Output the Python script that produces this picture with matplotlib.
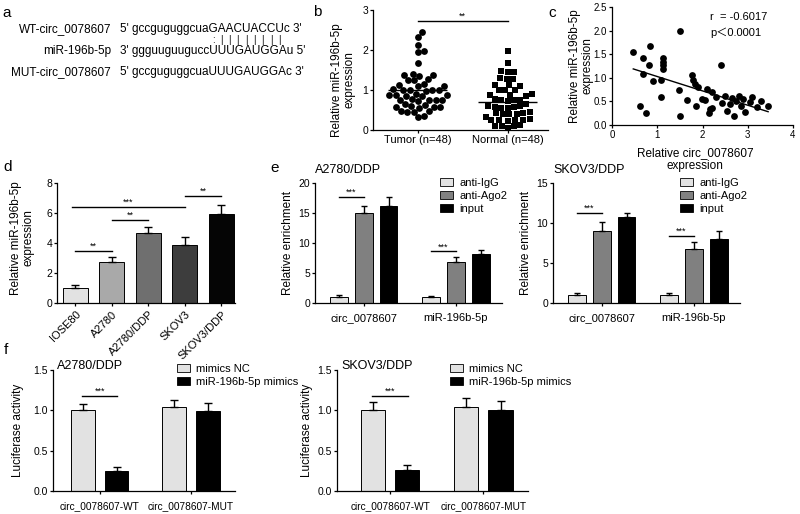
import numpy as np
import matplotlib
matplotlib.use('Agg')
import matplotlib.pyplot as plt
from matplotlib.patches import Patch
from matplotlib.font_manager import FontProperties

plt.rcParams['font.family'] = ['Liberation Sans', 'DejaVu Sans']
plt.rcParams['axes.linewidth'] = 0.9

# ---------------- data ----------------
# a: sequences
a_names = ['WT-circ_0078607', 'miR-196b-5p', 'MUT-circ_0078607']
a_seqs = ["5' gccguguggcuaGAACUACCUc 3'",
          "3' ggguuguuguccUUUGAUGGAu 5'",
          "5' gccguguggcuaUUUGAUGGAc 3'"]
a_pairs = ':||||||||'

# b: miR-196b-5p in tissues
b_groups = ['Tumor (n=48)', 'Normal (n=48)']
b_tumor = [2.46, 2.33, 2.13, 1.97, 1.95, 1.67, 1.40, 1.38, 1.38, 1.36,
           1.27, 1.25, 1.24, 1.14, 1.12, 1.11, 1.10, 1.02, 1.01, 1.00,
           1.00, 0.99, 0.98, 0.90, 0.88, 0.88, 0.87, 0.86, 0.85, 0.77,
           0.76, 0.75, 0.75, 0.74, 0.72, 0.65, 0.62, 0.60, 0.58, 0.58,
           0.57, 0.55, 0.48, 0.47, 0.46, 0.45, 0.36, 0.32]
b_normal = [1.98, 1.68, 1.47, 1.46, 1.45, 1.30, 1.28, 1.27, 1.13, 1.12,
            1.10, 1.01, 1.00, 0.99, 0.89, 0.88, 0.87, 0.86, 0.77, 0.76,
            0.75, 0.74, 0.73, 0.65, 0.60, 0.59, 0.58, 0.57, 0.56, 0.55,
            0.44, 0.43, 0.42, 0.41, 0.40, 0.39, 0.33, 0.27, 0.26, 0.25,
            0.25, 0.24, 0.23, 0.12, 0.11, 0.10, 0.09, 0.04]
b_center = [1.00, 0.71]

# c: correlation
c_x = [0.47, 0.69, 0.84, 0.81, 0.69, 0.91, 1.08, 1.12, 1.12, 1.12,
       1.12, 1.08, 0.62, 0.76, 1.50, 1.48, 1.51, 1.66, 1.77, 1.80,
       1.84, 1.91, 1.85, 1.99, 2.06, 2.09, 2.22, 2.15, 2.17, 2.20,
       2.40, 2.42, 2.30, 2.50, 2.55, 2.60, 2.65, 2.70, 2.75, 2.80,
       2.85, 2.90, 2.95, 3.05, 3.10, 3.20, 3.30, 3.45]
c_y = [1.55, 1.43, 1.67, 1.27, 1.08, 0.94, 0.95, 1.43, 1.34, 1.27,
       1.19, 0.59, 0.40, 0.25, 1.99, 0.74, 0.20, 0.54, 1.05, 0.95,
       0.86, 0.81, 0.41, 0.56, 0.52, 0.76, 0.70, 0.26, 0.33, 0.35,
       1.27, 0.46, 0.60, 0.62, 0.30, 0.45, 0.58, 0.20, 0.50, 0.62,
       0.40, 0.55, 0.28, 0.48, 0.60, 0.38, 0.50, 0.40]

# d: cell lines
d_cells = ['IOSE80', 'A2780', 'A2780/DDP', 'SKOV3', 'SKOV3/DDP']
d_mean = [1.0, 2.75, 4.7, 3.9, 5.95]
d_err = [0.2, 0.3, 0.35, 0.5, 0.6]

# e: RIP
e_targets = ['circ_0078607', 'miR-196b-5p']
e_series = ['anti-IgG', 'anti-Ago2', 'input']
e_a2780 = [[1.0, 1.0], [15.0, 6.8], [16.1, 8.1]]
e_a2780_err = [[0.3, 0.25], [1.2, 0.8], [1.5, 0.7]]
e_skov3 = [[1.0, 1.0], [9.0, 6.7], [10.8, 8.0]]
e_skov3_err = [[0.25, 0.2], [1.1, 0.9], [0.45, 1.0]]

# f: luciferase
f_groups = ['circ_0078607-WT', 'circ_0078607-MUT']
f_series = ['mimics NC', 'miR-196b-5p mimics']
f_a2780 = [[1.0, 1.04], [0.25, 0.99]]
f_a2780_err = [[0.08, 0.09], [0.05, 0.1]]
f_skov3 = [[1.0, 1.04], [0.26, 1.01]]
f_skov3_err = [[0.1, 0.11], [0.06, 0.1]]

W, H = 800, 514
fig = plt.figure(figsize=(8, 5.14), dpi=100)
fig.patch.set_facecolor('white')


def px_axes(x0, y0, x1, y1):
    ax = fig.add_axes([x0 / W, 1 - y1 / H, (x1 - x0) / W, (y1 - y0) / H])
    ax.spines[['top', 'right']].set_visible(False)
    ax.tick_params(labelsize=7.5, length=2.5, width=0.9, pad=1)
    return ax


def ftext(x, y, s, **kw):
    return fig.text(x / W, 1 - y / H, s, **kw)


def ylab(x, y, s):
    ftext(x, y, s, rotation=90, ha='center', va='center', fontsize=8.5,
          multialignment='center', linespacing=1.1)


def letter(x, y, s):
    ftext(x, y, s, ha='center', va='center', fontsize=11)


def sig(ax, x0, x1, y, s):
    ax.plot([x0, x1], [y, y], color='k', lw=1)
    ax.text((x0 + x1) / 2, y, s, ha='center', va='bottom', fontsize=6.5)


def legend(ax, colors, labels, x, y):
    handles = [Patch(facecolor=c, edgecolor='k', linewidth=0.6) for c in colors]
    ax.legend(handles, labels, loc='upper left',
              bbox_to_anchor=(x / W, 1 - y / H), bbox_transform=fig.transFigure,
              frameon=False, fontsize=8, handlelength=1.2, handleheight=0.75,
              handletextpad=0.55, labelspacing=0.25, borderpad=0, borderaxespad=0)


def swarm(vals, xs=92.0, ys=40.0, d=6.6):
    # simple beeswarm, offsets in data units
    order = np.argsort(vals)
    placed = []
    offs = np.zeros(len(vals))
    for i in order:
        y = vals[i] * ys
        cands = [0.0]
        for px, py in placed:
            dy = abs(py - y)
            if dy < d:
                dx = np.sqrt(d * d - dy * dy)
                cands += [px + dx, px - dx]
        best = None
        for c in sorted(cands, key=abs):
            if all((c - px) ** 2 + (y - py) ** 2 >= d * d - 1e-6 for px, py in placed):
                best = c
                break
        placed.append((best, y))
        offs[i] = best / xs
    return offs


# ---------------- a ----------------
letter(7, 13, 'a')
renderer = fig.canvas.get_renderer()
prop = FontProperties(family='Liberation Sans', size=8.5)


def tw(s):
    return renderer.get_text_width_height_descent(s, prop, ismath=False)[0]


for name, seq, yy in zip(a_names, a_seqs, [29, 51, 72]):
    ftext(111, yy, name, ha='right', va='center', fontsize=8.5)
    ftext(120, yy, seq, ha='left', va='center', fontsize=8.5)
start = a_seqs[0].index('GAACUACCU')
for i, m in enumerate(a_pairs):
    cx = 120 + tw(a_seqs[0][:start + i]) + tw(a_seqs[0][start + i]) / 2
    ftext(cx, 40, m, ha='center', va='center', fontsize=7)

# ---------------- b ----------------
letter(317, 12, 'b')
ax = px_axes(373, 10, 548, 130)
ax.scatter(0 + swarm(b_tumor), b_tumor, s=24, c='k', marker='o', linewidths=0, clip_on=False)
ax.scatter(1 + swarm(b_normal), b_normal, s=20, c='k', marker='s', linewidths=0, clip_on=False)
ax.hlines(b_center, [-0.33, 0.67], [0.33, 1.33], colors='k', lw=1)
sig(ax, 0, 1, 2.73, '**')
ax.set_xlim(-0.5, 1.45)
ax.set_ylim(0, 3)
ax.set_yticks([0, 1, 2, 3])
ax.set_xticks([0, 1])
ax.set_xticklabels(b_groups, fontsize=8)
ylab(343, 80, 'Relative miR-196b-5p\nexpression')

# ---------------- c ----------------
letter(552, 13, 'c')
ax = px_axes(612, 7, 793, 125)
ax.scatter(c_x, c_y, s=24, c='k', linewidths=0, clip_on=False)
k, b0 = np.polyfit(c_x, c_y, 1)
xx = np.array([min(c_x), max(c_x)])
ax.plot(xx, k * xx + b0, color='k', lw=1)
ax.set_xlim(0, 4)
ax.set_ylim(0, 2.5)
ax.set_xticks([0, 1, 2, 3, 4])
ax.set_yticks([0, 0.5, 1.0, 1.5, 2.0, 2.5])
ax.set_yticklabels(['%.1f' % v for v in [0, 0.5, 1.0, 1.5, 2.0, 2.5]])
ax.tick_params(labelsize=7)
ax.text(2.17, 2.28, 'r  = -0.6017', fontsize=8, va='center')
ax.text(2.17, 1.96, 'p\uff1c0.0001', fontsize=8, va='center',
        family=['Liberation Sans', 'Noto Sans CJK SC', 'DejaVu Sans'])
ylab(581, 66, 'Relative miR-196b-5p\nexpression')
ftext(695, 160, 'Relative circ_0078607\nexpression', ha='center', va='center',
      fontsize=8.5, linespacing=1.1)

# ---------------- d ----------------
letter(8, 167, 'd')
ax = px_axes(57, 183, 235, 303)
d_colors = ['#e2e2e2', '#a9a9a9', '#6f6f6f', '#3d3d3d', '#050505']
xd = np.arange(len(d_cells))
ax.bar(xd, d_mean, width=0.68, color=d_colors, edgecolor='k', linewidth=0.7)
ax.errorbar(xd, d_mean, yerr=[np.zeros(len(d_err)), d_err], fmt='none',
            ecolor='k', elinewidth=1, capsize=3, capthick=1)
sig(ax, 0, 1, 3.5, '**')
sig(ax, 1, 2, 5.55, '**')
sig(ax, -0.1, 3, 6.4, '***')
sig(ax, 3, 4, 7.15, '**')
ax.set_xlim(-0.5, 4.37)
ax.set_ylim(0, 8)
ax.set_yticks([0, 2, 4, 6, 8])
ax.set_xticks(xd)
ax.set_xticklabels(d_cells, rotation=45, ha='right', rotation_mode='anchor', fontsize=8)
ax.tick_params(axis='x', pad=2)
ylab(22, 238, 'Relative miR-196b-5p\nexpression')

# ---------------- e ----------------
letter(275, 168, 'e')
e_colors = ['#e2e2e2', '#808080', '#000000']
for box, title, vals, errs, lx, ylx, ymax, yt, sigs in [
        ((315, 183, 502, 303), 'A2780/DDP', e_a2780, e_a2780_err, 440, 288, 20,
         [0, 5, 10, 15, 20], [(-0.27, 0, 17.7), (0.73, 1, 8.6)]),
        ((553, 183, 740, 303), 'SKOV3/DDP', e_skov3, e_skov3_err, 680, 526, 15,
         [0, 5, 10, 15], [(-0.27, 0, 11.3), (0.73, 1, 8.4)])]:
    ax = px_axes(*box)
    xg = np.arange(len(e_targets))
    for j, (v, er) in enumerate(zip(vals, errs)):
        xpos = xg + (j - 1) * 0.27
        ax.bar(xpos, v, width=0.19, color=e_colors[j], edgecolor='k', linewidth=0.7)
        ax.errorbar(xpos, v, yerr=[np.zeros(len(er)), er], fmt='none',
                    ecolor='k', elinewidth=1, capsize=2.5, capthick=1)
    for x0, x1, yy in sigs:
        sig(ax, x0, x1, yy, '***')
    ax.set_xlim(-0.53, 1.5)
    ax.set_ylim(0, ymax)
    ax.set_yticks(yt)
    ax.set_xticks(xg)
    ax.set_xticklabels(e_targets, fontsize=8)
    ax.tick_params(axis='x', pad=5)
    ax.set_title(title, loc='left', fontsize=9, pad=7)
    legend(ax, e_colors, e_series, lx, 178)
    ylab(ylx, 243, 'Relative enrichment')

# ---------------- f ----------------
letter(6, 350, 'f')
f_colors = ['#e2e2e2', '#000000']
for box, title, vals, errs, lx, ylx, xl in [
        ((53, 370, 235, 491), 'A2780/DDP', f_a2780, f_a2780_err, 177, 18, -0.51),
        ((337, 370, 528, 491), 'SKOV3/DDP', f_skov3, f_skov3_err, 450, 307, -0.57)]:
    ax = px_axes(*box)
    xg = np.arange(len(f_groups))
    for j, (v, er) in enumerate(zip(vals, errs)):
        xpos = xg + (j - 0.5) * 0.37
        ax.bar(xpos, v, width=0.26, color=f_colors[j], edgecolor='k', linewidth=0.7)
        ax.errorbar(xpos, v, yerr=[np.zeros(len(er)), er], fmt='none',
                    ecolor='k', elinewidth=1, capsize=3, capthick=1)
    sig(ax, -0.19, 0.19, 1.175, '***')
    ax.set_xlim(xl, 1.48)
    ax.set_ylim(0, 1.5)
    ax.set_yticks([0, 0.5, 1.0, 1.5])
    ax.set_yticklabels(['0.0', '0.5', '1.0', '1.5'])
    ax.set_xticks(xg)
    ax.set_xticklabels(f_groups, fontsize=7.3)
    ax.tick_params(axis='x', pad=5)
    ftext(box[0] + 4, 366, title, ha='left', va='center', fontsize=9)
    legend(ax, f_colors, f_series, lx, 364)
    ylab(ylx, 430, 'Luciferase activity')

fig.savefig('out.png', dpi=100)
